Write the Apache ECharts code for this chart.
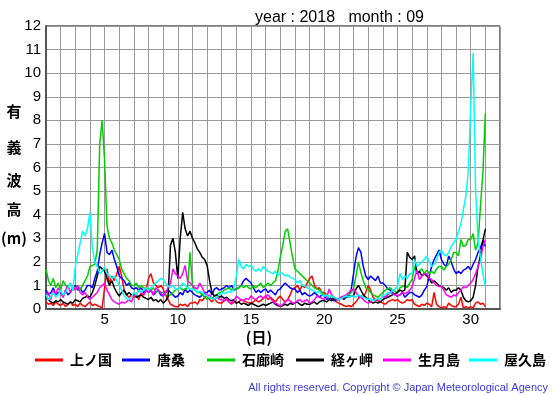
<!DOCTYPE html>
<html>
<head>
<meta charset="utf-8">
<script src="https://cdn.jsdelivr.net/npm/echarts@6/dist/echarts.min.js"></script>
<style>
html,body{margin:0;padding:0;background:#fff;}
#chart{width:555px;height:395px;}
</style>
</head>
<body>
<div id="chart"></div>
<script>
// ---- data (4-hourly samples, 6 per day, starting day 1 00:00) ----
const samplesPerDay = 6;
const seriesNames = ['上ノ国', '唐桑', '石廊崎', '経ヶ岬', '生月島', '屋久島'];
const seriesColors = ['#ff0000', '#0000ff', '#00cc00', '#000000', '#ff00ff', '#00ffff'];
const xTickLabels = [5, 10, 15, 20, 25, 30];
const yAxisTitle = ['有', '義', '波', '高', '(m)'];
const xAxisTitle = '(日)';
const titleText = 'year : 2018   month : 09';
const copyrightText = 'All rights reserved. Copyright © Japan Meteorological Agency';

const kaminokuni = [
0.3,0.2,0.25,0.15,0.3,0.2,
0.15,0.25,0.1,0.2,0.3,0.15,
0.2,0.1,0.25,0.15,0.1,0.2,
0.3,0.15,0.2,0.15,0.1,0.05,
0.9,1.7,1.1,1.4,1.2,1.5,
1.8,1.4,0.8,0.6,0.5,0.6,
0.5,0.6,0.4,0.7,0.6,0.8,
1.3,1.5,1.1,1.0,0.9,1.0,
0.85,0.6,0.4,0.2,0.15,0.1,
0.1,0.2,0.15,0.2,0.1,0.25,
0.25,0.3,0.2,0.4,0.35,0.5,
0.55,0.4,0.3,0.45,0.3,0.25,
0.25,0.35,0.4,0.3,0.2,0.3,
0.25,0.3,0.4,0.35,0.3,0.25,
0.25,0.3,0.4,0.3,0.35,0.45,
0.55,0.4,0.5,0.4,0.3,0.45,
0.55,0.4,0.3,0.4,0.6,0.85,
0.9,1.0,0.8,1.0,0.9,1.1,
1.3,1.4,1.0,0.85,0.9,0.7,
0.7,0.6,0.5,0.45,0.4,0.3,
0.25,0.2,0.15,0.1,0.15,0.1,
0.2,0.3,0.45,0.55,0.5,0.7,
1.0,0.8,0.5,0.4,0.35,0.3,
0.25,0.2,0.3,0.35,0.4,0.35,
0.4,0.3,0.25,0.3,0.4,0.35,
0.4,0.2,0.15,0.1,0.2,0.15,
0.25,0.2,0.1,0.7,0.2,0.1,
0.05,0.1,0.05,0.25,0.15,0.1,
0.1,0.2,0.5,0.05,0.1,0.05,
0.1,0.05,0.25,0.3,0.2,0.25,
0.1];

const karakuwa = [
0.8,0.6,0.7,0.9,0.6,0.7,
0.7,0.5,0.8,0.6,0.7,0.9,
1.0,0.8,0.9,0.7,0.8,1.0,
1.0,0.9,1.3,1.6,2.3,2.8,
3.2,2.4,2.3,2.5,2.1,1.8,
1.4,1.3,1.2,1.0,1.1,0.9,
0.85,0.9,0.8,0.9,0.7,0.8,
0.7,0.8,0.6,0.7,0.8,0.6,
0.55,0.7,0.8,0.7,0.6,0.5,
0.55,0.7,0.6,0.85,0.7,0.8,
0.7,0.6,0.55,0.5,0.6,0.7,
0.7,0.8,0.6,0.85,0.9,0.8,
0.85,0.9,1.0,0.9,1.0,0.8,
0.85,0.9,1.0,1.2,1.3,1.2,
1.1,0.9,0.7,0.8,0.7,0.8,
0.85,0.7,0.8,0.7,0.6,0.8,
0.85,1.0,1.1,1.0,0.9,0.85,
0.85,0.7,0.8,0.6,0.7,0.6,
0.55,0.6,0.7,0.6,0.5,0.6,
0.55,0.4,0.5,0.4,0.35,0.4,
0.4,0.5,0.4,0.5,0.55,0.8,
1.5,2.2,2.6,2.4,1.8,1.4,
1.25,1.4,1.3,1.2,1.4,1.1,
1.1,1.0,0.85,0.8,0.7,0.6,
0.55,0.6,0.7,0.5,0.6,0.7,
0.7,0.6,0.55,0.5,0.6,0.8,
0.95,1.4,1.8,2.1,2.3,2.5,
2.1,1.9,1.8,2.25,2.0,1.7,
1.5,1.6,1.5,1.65,1.7,1.8,
1.65,1.9,2.1,2.4,2.6,2.9,
2.65];

const irozaki = [
1.7,1.2,1.0,1.3,0.9,1.1,
0.8,1.2,1.0,0.9,1.1,0.8,
0.9,1.0,0.8,1.0,1.2,1.4,
1.8,1.85,1.9,2.5,7.0,8.0,
6.3,3.5,3.0,2.8,2.5,2.3,
2.1,1.7,1.5,1.3,1.2,1.0,
1.0,1.1,0.9,1.0,0.9,0.85,
0.85,0.8,0.9,0.7,0.8,0.7,
0.7,0.6,0.55,0.6,0.7,0.8,
0.85,0.9,0.8,0.85,0.9,2.4,
1.0,0.8,0.7,0.7,0.6,0.5,
0.4,0.5,0.45,0.55,0.6,0.7,
0.7,0.8,0.85,0.9,0.8,0.85,
0.85,0.9,1.0,0.9,1.0,0.9,
0.85,1.0,0.9,1.0,1.1,0.9,
1.0,1.1,1.0,1.1,1.2,1.6,
2.2,2.7,3.3,3.4,2.8,2.2,
1.7,1.6,1.5,1.4,1.3,1.2,
1.1,1.0,0.9,0.85,0.8,0.7,
0.55,0.6,0.5,0.55,0.45,0.4,
0.4,0.5,0.45,0.55,0.6,0.7,
0.85,1.4,2.0,1.55,1.2,0.9,
0.85,0.7,0.6,0.55,0.5,0.6,
0.7,0.8,0.85,0.9,0.8,0.75,
0.7,0.9,0.95,1.0,0.9,1.1,
1.25,1.8,1.5,1.6,1.7,1.5,
1.65,1.5,1.6,1.5,1.7,1.8,
1.8,1.65,1.8,1.9,2.1,2.4,
2.4,2.25,2.95,2.65,2.7,2.95,
2.95,3.2,2.5,2.8,4.35,5.8,
8.3];

const kyogamisaki = [
0.55,0.4,0.3,0.25,0.35,0.3,
0.4,0.3,0.25,0.2,0.3,0.25,
0.4,0.35,0.3,0.45,0.5,0.55,
0.5,0.7,1.0,1.4,1.8,1.7,
1.6,1.3,1.0,1.2,0.9,0.7,
0.55,0.7,0.8,0.6,0.7,0.6,
0.6,0.5,0.55,0.6,0.5,0.45,
0.4,0.5,0.35,0.4,0.3,0.4,
0.25,0.35,0.5,2.7,3.0,2.4,
1.3,3.0,4.1,3.4,3.1,3.3,
3.0,2.8,2.55,2.4,2.2,2.1,
1.85,1.2,0.7,0.55,0.6,0.5,
0.55,0.45,0.5,0.4,0.35,0.4,
0.25,0.3,0.2,0.25,0.2,0.15,
0.25,0.2,0.15,0.1,0.15,0.2,
0.15,0.2,0.25,0.3,0.2,0.15,
0.1,0.15,0.2,0.15,0.25,0.2,
0.25,0.3,0.2,0.15,0.25,0.2,
0.2,0.25,0.3,0.2,0.3,0.35,
0.35,0.3,0.4,0.35,0.45,0.4,
0.4,0.5,0.45,0.55,0.5,0.55,
0.55,0.85,1.0,0.8,0.6,0.5,
0.4,0.3,0.25,0.3,0.25,0.3,
0.4,0.45,0.5,0.55,0.6,0.65,
0.7,0.8,0.75,0.8,2.4,2.2,
2.1,2.25,1.5,1.6,1.4,1.5,
1.4,1.3,1.1,1.2,1.1,1.0,
0.95,0.9,0.8,0.9,0.7,0.8,
0.8,0.9,0.8,0.5,0.35,0.3,
0.35,0.5,1.0,1.8,2.3,2.9,
3.4];

const ikitsukishima = [
0.55,0.7,0.4,0.8,0.6,0.9,
0.7,0.5,0.8,1.0,0.7,0.9,
0.8,1.0,0.7,0.6,0.7,0.5,
0.4,0.5,0.6,0.7,0.9,1.0,
1.1,0.8,0.6,0.4,0.3,0.25,
0.2,0.3,0.25,0.3,0.4,0.3,
0.55,0.6,0.8,0.7,0.6,0.8,
0.7,0.8,0.6,0.9,0.8,0.7,
0.55,0.7,0.9,1.1,1.7,1.5,
1.4,1.3,1.5,1.85,1.2,1.1,
1.0,0.9,0.85,1.1,0.9,0.7,
0.55,0.6,0.45,0.4,0.5,0.4,
0.4,0.35,0.45,0.3,0.25,0.35,
0.55,0.45,0.4,0.35,0.45,0.4,
0.55,0.45,0.4,0.5,0.55,0.45,
0.55,0.6,0.45,0.3,0.25,0.2,
0.1,0.2,0.3,0.4,0.35,0.25,
0.25,0.35,0.4,0.3,0.35,0.4,
0.25,0.3,0.4,0.55,0.5,0.45,
0.4,0.5,0.85,0.6,0.5,0.4,
0.4,0.5,0.55,0.6,0.7,0.8,
0.85,0.7,0.55,0.5,0.4,0.3,
0.25,0.3,0.4,0.35,0.45,0.4,
0.55,0.5,0.6,0.7,0.65,0.6,
0.55,0.6,0.7,0.65,0.7,0.8,
0.95,1.3,1.65,1.25,1.4,1.5,
1.5,1.3,1.25,1.1,1.0,0.95,
0.95,0.8,0.6,0.55,0.5,0.6,
0.55,0.7,0.8,0.95,0.9,1.0,
1.1,1.25,1.5,1.8,2.1,2.65,
2.95];

const yakushima = [
0.6,0.4,0.5,0.7,0.5,0.6,
0.8,0.6,0.7,0.9,1.1,0.8,
1.8,2.3,2.8,3.3,3.1,3.4,
4.1,2.6,2.0,1.8,1.5,1.6,
1.8,1.5,1.4,1.3,1.4,1.2,
1.0,0.8,0.55,0.45,0.4,0.5,
0.7,0.6,0.8,0.7,0.8,0.9,
0.8,0.9,1.0,1.1,1.2,1.3,
1.25,1.1,1.0,0.9,1.0,0.85,
0.85,0.9,1.1,1.0,0.9,0.85,
0.85,0.8,0.7,0.75,0.7,0.6,
0.55,0.5,0.45,0.4,0.5,0.6,
0.7,0.65,0.7,0.75,0.7,0.9,
1.4,2.1,1.8,1.7,1.9,1.8,
1.85,1.7,1.6,1.7,1.6,1.8,
1.7,1.6,1.55,1.5,1.6,1.4,
1.55,1.5,1.4,1.45,1.35,1.3,
1.25,1.1,1.2,1.0,1.0,0.9,
0.85,0.8,0.75,0.7,0.75,0.6,
0.55,0.6,0.5,0.55,0.5,0.45,
0.4,0.45,0.5,0.55,0.5,0.55,
0.55,0.5,0.6,0.55,0.5,0.45,
0.4,0.45,0.35,0.4,0.45,0.4,
0.55,0.6,0.7,0.65,0.8,0.85,
0.95,1.5,1.25,1.4,1.3,1.5,
1.5,2.1,1.8,1.9,2.0,2.1,
2.25,2.0,1.8,1.9,2.1,2.4,
2.5,2.3,2.25,2.4,2.65,2.8,
2.95,3.3,3.6,4.2,4.8,5.8,
8.6,10.85,5.0,2.95,2.2,1.5,
0.95];

const allValues = [kaminokuni, karakuwa, irozaki, kyogamisaki, ikitsukishima, yakushima];

// ---- chart ----
const latin = '"Liberation Sans", Arial, sans-serif';
const cjk = '"Noto Sans CJK JP", "Noto Sans", sans-serif';
const chart = echarts.init(document.getElementById('chart'), null, {renderer: 'canvas'});

const series = allValues.map((vals, k) => ({
  name: seriesNames[k],
  type: 'line',
  showSymbol: false,
  symbol: 'none',
  animation: false,
  lineStyle: {color: seriesColors[k], width: 1.5},
  itemStyle: {color: seriesColors[k]},
  data: vals.map((v, i) => [1 + i / samplesPerDay, v])
}));

const legendLefts = [30, 117, 202, 291, 378, 464];
const legends = seriesNames.map((n, k) => ({
  data: [n],
  left: legendLefts[k],
  top: 348,
  icon: 'rect',
  itemWidth: 28,
  itemHeight: 3,
  selectedMode: false,
  textStyle: {fontFamily: cjk, fontSize: 14, fontWeight: 'bold', color: '#000', padding: [0, 0, 0, 2]}
}));

const yTitleY = [111, 147, 180, 209, 238];
const graphics = yAxisTitle.map((t, k) => ({
  type: 'text', x: 14, y: yTitleY[k],
  style: {text: t, fontFamily: cjk, fontSize: 15, fontWeight: 'bold', fill: '#000', align: 'center', verticalAlign: 'middle'}
}));
graphics.push({
  type: 'text', x: 259, y: 337,
  style: {text: xAxisTitle, fontFamily: cjk, fontSize: 15, fontWeight: 'bold', fill: '#000', align: 'center', verticalAlign: 'middle'}
});
graphics.push({
  type: 'text', x: 548, y: 388,
  style: {text: copyrightText, fontFamily: latin, fontSize: 11, fill: '#3b3bd6', align: 'right', verticalAlign: 'middle'}
});

chart.setOption({
  animation: false,
  backgroundColor: '#fff',
  title: {
    text: titleText, left: 250, top: 5,
    textStyle: {fontFamily: latin, fontSize: 16, fontWeight: 'normal', color: '#000'}
  },
  grid: {left: 46, right: 55, top: 26, bottom: 86, show: true, borderColor: '#000', borderWidth: 1, backgroundColor: 'transparent'},
  xAxis: {
    type: 'value', min: 1, max: 32, interval: 1,
    axisLine: {show: true, onZero: false, lineStyle: {color: '#555', width: 2}},
    axisTick: {show: false},
    splitLine: {show: true, lineStyle: {color: '#999', width: 1}},
    axisLabel: {
      margin: 3, fontFamily: latin, fontSize: 15, color: '#000',
      formatter: v => xTickLabels.includes(v) ? String(v) : ''
    }
  },
  yAxis: {
    type: 'value', min: 0, max: 12, interval: 1,
    axisLine: {show: true, lineStyle: {color: '#555', width: 2}},
    axisTick: {show: false},
    splitLine: {show: true, lineStyle: {color: '#999', width: 1}},
    axisLabel: {margin: 5, fontFamily: latin, fontSize: 15, color: '#000'}
  },
  legend: legends,
  graphic: graphics,
  series: series
});
</script>
</body>
</html>
